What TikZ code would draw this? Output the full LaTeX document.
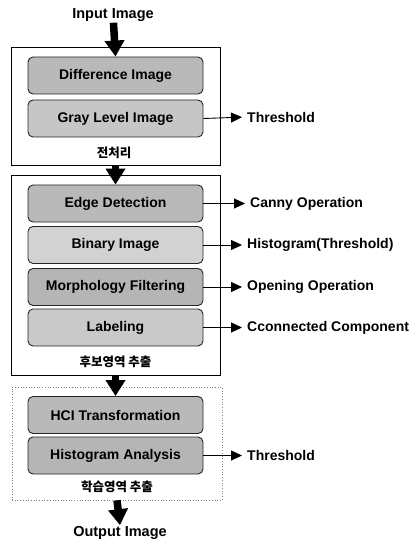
\documentclass[tikz,border=0pt]{standalone}
\usepackage{fontspec}
\setmainfont{Liberation Sans}
\newfontfamily\krfont{Noto Sans CJK KR}
\usetikzlibrary{arrows.meta}

\begin{document}
\begin{tikzpicture}[x=1pt, y=-1pt,
    stage/.style={draw=gray!30!black, line width=0.9pt, rounded corners=5pt,
                  fill=gray!50, minimum width=175pt, minimum height=37pt,
                  inner sep=0pt, font=\fontsize{14}{16}\selectfont\bfseries},
    group/.style={draw=black, line width=0.7pt, minimum width=209pt, inner sep=0pt},
    kr/.style={font=\krfont\bfseries\fontsize{12.5}{14}\selectfont},
    lbl/.style={font=\fontsize{14}{16}\selectfont\bfseries, anchor=west, inner sep=1pt},
    io/.style={font=\fontsize{14.5}{17}\selectfont\bfseries, inner sep=1pt},
    bigflow/.style={-{Triangle[length=16pt,width=19pt]}, line width=7.5pt},
    flow/.style={-{Triangle[length=11pt,width=10pt]}, line width=0.9pt, shorten >=4pt}]
  \useasboundingbox (0,0) rectangle (415,545);
  % groups
  \node[group, minimum height=118pt] (pre) at (115.5,106) {};
  \node[group, minimum height=200pt] (cand) at (115.5,275) {};
  \node[group, draw=gray, dotted, minimum width=210pt, minimum height=113pt] (learn) at (117,443.5) {};
  \node[kr] (prelbl) at (114,153) {전처리};
  \node[kr] (candlbl) at (115.5,362) {후보영역 추출};
  \node[kr] (learnlbl) at (117,487) {학습영역 추출};
  % stages
  \node[io] (in) at (113,15) {Input Image};
  \node[stage, fill=gray!55] (diff) at (115.5,75.5) {Difference Image};
  \node[stage, fill=gray!45] (gray) at (115.5,118.5) {Gray Level Image};
  \node[stage, fill=gray!55] (edge) at (115.5,203.5) {Edge Detection};
  \node[stage, fill=gray!35] (bin) at (115.5,245) {Binary Image};
  \node[stage, fill=gray!58] (morph) at (115.5,287) {Morphology Filtering};
  \node[stage, fill=gray!42] (label) at (115.5,327.5) {Labeling};
  \node[stage, fill=gray!55] (hci) at (115.5,415) {HCI Transformation};
  \node[stage, fill=gray!58] (hist) at (115.5,455.5) {Histogram Analysis};
  \node[io] (out) at (120,533) {Output Image};
  % side notes
  \node[lbl] (thr1) at (246,117) {Threshold};
  \node[lbl] (canny) at (249,203.5) {Canny Operation};
  \node[lbl] (histthr) at (246,245) {Histogram(Threshold)};
  \node[lbl] (open) at (246,287) {Opening Operation};
  \node[lbl] (conn) at (246,327.5) {Cconnected Component};
  \node[lbl] (thr2) at (246,455.5) {Threshold};
  % main flow
  \draw[bigflow] (in) -- (diff.north);
  \draw[bigflow] (pre.south) -- (edge.north);
  \draw[bigflow] (cand.south) -- (hci.north);
  \draw[bigflow] (learn.south) -- (out.north);
  % side arrows
  \draw[flow] (gray.east) -- (thr1.west);
  \draw[flow] (edge.east) -- (canny.west);
  \draw[flow] (bin.east) -- (histthr.west);
  \draw[flow] (morph.east) -- (open.west);
  \draw[flow] (label.east) -- (conn.west);
  \draw[flow] (hist.east) -- (thr2.west);
\end{tikzpicture}
\end{document}
